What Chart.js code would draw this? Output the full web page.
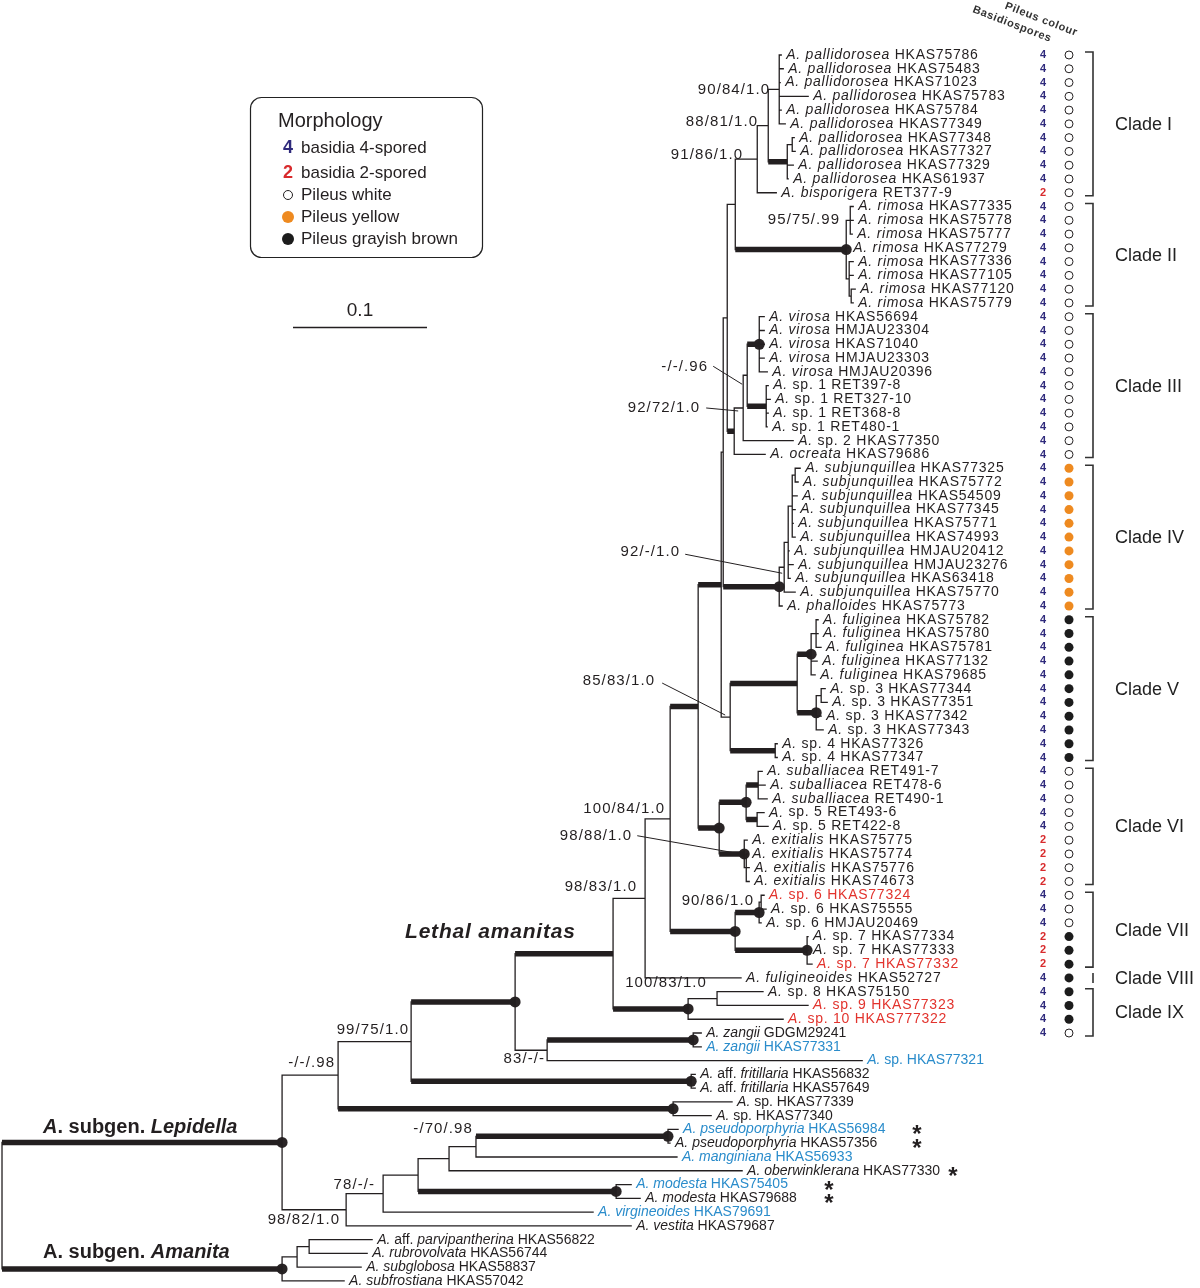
<!DOCTYPE html>
<html><head><meta charset="utf-8">
<script src="https://cdn.jsdelivr.net/npm/chart.js@4.4.1/dist/chart.umd.min.js"></script>
<style>html,body{margin:0;padding:0;background:#fff;}canvas{display:block;}</style>
</head><body>
<canvas id="c" width="1200" height="1288"></canvas>
<script>
// ---------------- DATA ----------------
const tipSpecies = [
'A. pallidorosea','A. pallidorosea','A. pallidorosea','A. pallidorosea','A. pallidorosea','A. pallidorosea','A. pallidorosea','A. pallidorosea','A. pallidorosea','A. pallidorosea',
'A. bisporigera',
'A. rimosa','A. rimosa','A. rimosa','A. rimosa','A. rimosa','A. rimosa','A. rimosa','A. rimosa',
'A. virosa','A. virosa','A. virosa','A. virosa','A. virosa',
'A. sp. 1','A. sp. 1','A. sp. 1','A. sp. 1','A. sp. 2','A. ocreata',
'A. subjunquillea','A. subjunquillea','A. subjunquillea','A. subjunquillea','A. subjunquillea','A. subjunquillea','A. subjunquillea','A. subjunquillea','A. subjunquillea','A. subjunquillea',
'A. phalloides',
'A. fuliginea','A. fuliginea','A. fuliginea','A. fuliginea','A. fuliginea',
'A. sp. 3','A. sp. 3','A. sp. 3','A. sp. 3','A. sp. 4','A. sp. 4',
'A. suballiacea','A. suballiacea','A. suballiacea','A. sp. 5','A. sp. 5',
'A. exitialis','A. exitialis','A. exitialis','A. exitialis',
'A. sp. 6','A. sp. 6','A. sp. 6','A. sp. 7','A. sp. 7','A. sp. 7',
'A. fuligineoides','A. sp. 8','A. sp. 9','A. sp. 10',
'A. zangii','A. zangii ','A. sp.',
'A. aff. fritillaria','A. aff. fritillaria','A. sp.','A. sp.',
'A. pseudoporphyria','A. pseudoporphyria','A. manginiana','A. oberwinklerana','A. modesta','A. modesta','A. virgineoides','A. vestita',
'A. aff. parvipantherina','A. rubrovolvata','A. subglobosa','A. subfrostiana'];
const tipVoucher = [
'HKAS75786','HKAS75483','HKAS71023','HKAS75783','HKAS75784','HKAS77349','HKAS77348','HKAS77327','HKAS77329','HKAS61937',
'RET377-9',
'HKAS77335','HKAS75778','HKAS75777','HKAS77279','HKAS77336','HKAS77105','HKAS77120','HKAS75779',
'HKAS56694','HMJAU23304','HKAS71040','HMJAU23303','HMJAU20396',
'RET397-8','RET327-10','RET368-8','RET480-1','HKAS77350','HKAS79686',
'HKAS77325','HKAS75772','HKAS54509','HKAS77345','HKAS75771','HKAS74993','HMJAU20412','HMJAU23276','HKAS63418','HKAS75770',
'HKAS75773',
'HKAS75782','HKAS75780','HKAS75781','HKAS77132','HKAS79685',
'HKAS77344','HKAS77351','HKAS77342','HKAS77343','HKAS77326','HKAS77347',
'RET491-7','RET478-6','RET490-1','RET493-6','RET422-8',
'HKAS75775','HKAS75774','HKAS75776','HKAS74673',
'HKAS77324','HKAS75555','HMJAU20469','HKAS77334','HKAS77333','HKAS77332',
'HKAS52727','HKAS75150','HKAS77323','HKAS777322',
'GDGM29241','HKAS77331','HKAS77321',
'HKAS56832','HKAS57649','HKAS77339','HKAS77340',
'HKAS56984','HKAS57356','HKAS56933','HKAS77330','HKAS75405','HKAS79688','HKAS79691','HKAS79687',
'HKAS56822','HKAS56744','HKAS58837','HKAS57042'];
const redTips = [62,67,70,71];
const blueTips = [73,74,79,81,83,85];
const starTips = [79,80,82,83,84];
const tipSpores = [4,4,4,4,4,4,4,4,4,4, 2, 4,4,4,4,4,4,4,4, 4,4,4,4,4, 4,4,4,4,4,4,
  4,4,4,4,4,4,4,4,4,4,4, 4,4,4,4,4,4,4,4,4,4,4, 4,4,4,4,4, 2,2,2,2, 4,4,4,2,2,2, 4, 4,4,4, 4];
const tipPileus = ['w','w','w','w','w','w','w','w','w','w','w', 'w','w','w','w','w','w','w','w',
  'w','w','w','w','w','w','w','w','w','w','w',
  'y','y','y','y','y','y','y','y','y','y','y',
  'g','g','g','g','g','g','g','g','g','g','g',
  'w','w','w','w','w','w','w','w','w', 'w','w','w','g','g','g', 'g', 'g','g','g', 'w'];

const treeTable = [
'ROOT = LEP:0.2090 AMA:0.2090',
'LEP = N1:0.0418 N2:0.0478',
'N1 = N3:0.0545 N4:0.2500',
'N3 = N5:0.0776 N6:0.2090',
'N5 = N7:0.0731 N8:0.0239',
'N7 = N10:0.0239 N11:0.0560',
'N10 = N13:0.0187 t68:0.0716',
'N13 = N14:0.0209 N15:0.0485',
'N14 = N18:0.0172 N19:0.0157',
'N18 = N20:0.0015 N21:0.0067',
'N20 = N22:0.0030 N23:0.0418',
'N22 = N24:0.0060 N25:0.0052',
'N24 = N26:0.0164 N27:0.0828',
'N26 = N28:0.0082 t11:0.0142',
'N28 = N29:0.0082 N30:0.0142',
'N29 = t1:0.0015 t2:0.0030 t3:0.0007 t4:0.0216 t5:0.0015 t6:0.0045',
'N30 = N31:0.0037 t9:0.0045 t10:0.0007',
'N31 = t7:0.0015 t8:0.0022',
'N27 = N27a:0.0030 t15:0.0015 N27b:0.0022',
'N27a = t12:0.0022 t13:0.0022 t14:0.0015',
'N27b = t16:0.0030 t17:0.0030 N27c:0.0015',
'N27c = t18:0.0030 t19:0.0015',
'N25 = N32:0.0067 t30:0.0231',
'N32 = N33:0.0030 t29:0.0373',
'N33 = N34:0.0090 N35:0.0142',
'N34 = t20:0.0037 t21:0.0037 t22:0.0037 t23:0.0037 t24:0.0060',
'N35 = t25:0.0015 t26:0.0030 t27:0.0015 t28:0.0007',
'N23 = N36:0.0037 t41:0.0022',
'N36 = N37:0.0030 t40:0.0082',
'N37 = N38:0.0030 t37:0.0007 t38:0.0037 t39:0.0015',
'N38 = N39:0.0022 t33:0.0037 t34:0.0022 t35:0.0007 t36:0.0022',
'N39 = t31:0.0037 t32:0.0022',
'N21 = N40:0.0500 N41:0.0336',
'N40 = N42:0.0104 N44:0.0142',
'N42 = N43:0.0037 t45:0.0045 t46:0.0030',
'N43 = t42:0.0015 t43:0.0015 t44:0.0037',
'N44 = N45:0.0037 t49:0.0037 t50:0.0052',
'N45 = t47:0.0030 t48:0.0045',
'N41 = t51:0.0015 t52:0.0015',
'N19 = N56:0.0201 N51:0.0187',
'N56 = N52:0.0090 N53:0.0082',
'N52 = t53:0.0030 t54:0.0052 t55:0.0067',
'N53 = t56:0.0052 t57:0.0082',
'N51 = t58:0.0022 N54:0.0015',
'N54 = t59:0.0007 t60:0.0022 t61:0.0022',
'N15 = N16:0.0179 N17:0.0537',
'N16 = N16a:0.0015 t64:0.0015',
'N16a = t62:0.0022 t63:0.0037',
'N17 = t65:0.0007 t66:0.0007 t67:0.0037',
'N11 = N12:0.0216 t71:0.0709',
'N12 = t69:0.0343 t70:0.0679',
'N8 = N9:0.1090 t74:0.2351',
'N9 = t72:0.0060 t73:0.0060',
'N6 = t75:0.0030 t76:0.0030',
'N4 = t77:0.0440 t78:0.0284',
'N2 = N46:0.0276 t86:0.2127',
'N46 = N47:0.0261 t85:0.1567',
'N47 = N48:0.0231 N49:0.1478',
'N48 = N50:0.0201 t82:0.2187',
'N50 = N55:0.1433 t81:0.1500',
'N55 = t79:0.0075 t80:0.0015',
'N49 = t83:0.0112 t84:0.0179',
'AMA = Am1:0.0112 t90:0.0463',
'Am1 = Am2:0.0090 t89:0.0478',
'Am2 = t87:0.0470 t88:0.0433'];
const thickBranches = ['LEP','AMA','N5','N7','N4','N6','N9','N11','N14','N18','N15','N16','N17','N19','N56','N51','N52','N53','N23','N40','N41','N42','N44','N25','N34','N35','N27','N30','N55','N49'];
const dotNodes = ['LEP','AMA','N5','N4','N6','N9','N11','N15','N16','N17','N19','N56','N51','N23','N42','N44','N34','N27','N55','N49'];
const supportNodes = ['N29','N28','N26','N27a','N33','N32','N36','N21','N13','N54','N10','N16','N12','N8','N3','N1','N50','N46','N2'];
const supportValues = ['90/84/1.0','88/81/1.0','91/86/1.0','95/75/.99','-/-/.96','92/72/1.0','92/-/1.0','85/83/1.0','100/84/1.0','98/88/1.0','98/83/1.0','90/86/1.0','100/83/1.0','83/-/-','99/75/1.0','-/-/.98','-/70/.98','78/-/-','98/82/1.0'];
const cladeNames = ['Clade I','Clade II','Clade III','Clade IV','Clade V','Clade VI','Clade VII','Clade VIII','Clade IX'];
const cladeFirst = [1,12,20,31,42,53,62,68,69];
const cladeLast  = [11,19,30,41,52,61,67,68,72];
const legendSymbols = ['4','2','w','y','g'];
const legendTexts = ['basidia 4-spored','basidia 2-spored','Pileus white','Pileus yellow','Pileus grayish brown'];
const scaleBarValue = 0.1;

// ---------------- LAYOUT / STYLE ----------------
const FONT = '"Liberation Sans", Arial, Helvetica, sans-serif';
const INK = '#231f20';
const RED = '#e2332d', BLUE = '#2a8ccb', SPORE4 = '#2f2a7c', SPORE2 = '#d82a2c', ORANGE = '#ee8a20';
const supportPlace = {
 N29:[-9,0], N28:[-10,-4], N26:[-14,-4], N27a:[-10,0],
 N33:[-39,-8,-34,-9,-5,9], N32:[-43,0,-37,0,-5,3], N36:[-104,-15,-99,-13,-2,6],
 N21:[-75,-36,-68,-34,-5,-2], N13:[-5,-10], N54:[-114,-32,-109,-32,-1,-13],
 N10:[-8,-12], N16:[-5,-12], N12:[-10,-16], N8:[-2,9], N3:[-2,-12], N1:[-3,-12],
 N50:[-3,-18], N46:[-8,-9], N2:[-6,10]
};
const starColumnX = {79: 917, 80: 917, 82: 953, 83: 829, 84: 829};

// ---------------- BUILD TREE ----------------
const nodes = {};
treeTable.forEach(line => {
  const [name, rest] = line.split('=').map(s => s.trim());
  nodes[name] = nodes[name] || {name, len: 0};
  nodes[name].children = rest.split(/\s+/).map(tok => {
    const [c, l] = tok.split(':');
    nodes[c] = nodes[c] || {name: c, len: 0, children: []};
    nodes[c].len = parseFloat(l);
    return nodes[c];
  });
});
let leafCounter = 0;
function layout(node, parentX, parent) {
  node.parent = parent;
  node.x = parentX + node.len;
  if (!node.children || node.children.length === 0) {
    node.children = [];
    node.y = leafCounter++;
    node.tip = parseInt(node.name.slice(1), 10);
  } else {
    node.children.forEach(c => layout(c, node.x, node));
    node.y = (node.children[0].y + node.children[node.children.length - 1].y) / 2;
  }
}
const root = nodes['ROOT'];
layout(root, 0, null);
const allNodes = Object.values(nodes);
const tipNodes = allNodes.filter(n => n.children.length === 0).sort((a, b) => a.tip - b.tip);

const thinData = [], thickData = [];
const GAP = {x: null, y: null};
allNodes.forEach(n => {
  if (n.children.length) {
    thinData.push({x: n.x, y: n.children[0].y}, {x: n.x, y: n.children[n.children.length - 1].y}, GAP);
  }
  if (n.parent) {
    const target = thickBranches.includes(n.name) ? thickData : thinData;
    target.push({x: n.parent.x, y: n.y}, {x: n.x, y: n.y}, GAP);
  }
});
const dotData = dotNodes.map(nm => ({x: nodes[nm].x, y: nodes[nm].y}));

// ---------------- DRAW HELPERS ----------------
function setSpacing(ctx, px) { if ('letterSpacing' in ctx) ctx.letterSpacing = px + 'px'; }
function isItalicToken(t) { return !(t === 'sp.' || t === 'aff.' || /^\d+$/.test(t)); }
function drawTipLabel(ctx, x, y, species, voucher, color, spacing, size) {
  ctx.fillStyle = color; ctx.textBaseline = 'middle'; ctx.textAlign = 'left';
  setSpacing(ctx, spacing);
  const parts = species.trim().split(/\s+/).map(t => [t, isItalicToken(t)]);
  parts.push([voucher, false]);
  let cx = x;
  parts.forEach(([t, it], k) => {
    ctx.font = (it ? 'italic ' : '') + size + 'px ' + FONT;
    ctx.fillText(t, cx, y);
    cx += ctx.measureText(t).width;
    if (k < parts.length - 1) { ctx.font = size + 'px ' + FONT; cx += ctx.measureText(' ').width; }
  });
  setSpacing(ctx, 0);
  return cx;
}
function circle(ctx, x, y, r, fill, stroke) {
  ctx.beginPath(); ctx.arc(x, y, r, 0, Math.PI * 2);
  if (fill) { ctx.fillStyle = fill; ctx.fill(); }
  if (stroke) { ctx.strokeStyle = stroke; ctx.lineWidth = 1; ctx.stroke(); }
}
function pileusMark(ctx, x, y, code, big) {
  if (code === 'w') circle(ctx, x, y, big ? 4.5 : 4, '#fff', INK);
  else if (code === 'y') circle(ctx, x, y, big ? 6 : 4.5, ORANGE, null);
  else if (code === 'g') circle(ctx, x, y, big ? 6 : 4.5, '#1c1c1c', null);
}
function line(ctx, x1, y1, x2, y2, w, col) {
  ctx.beginPath(); ctx.moveTo(x1, y1); ctx.lineTo(x2, y2);
  ctx.lineWidth = w; ctx.strokeStyle = col || INK; ctx.stroke();
}

const decor = {
  id: 'decor',
  afterDatasetsDraw(chart) {
    const ctx = chart.ctx, xs = chart.scales.x, ys = chart.scales.y;
    ctx.save();
    tipNodes.forEach(n => {
      const i = n.tip - 1;
      const px = xs.getPixelForValue(n.x) + 5, py = ys.getPixelForValue(n.y);
      const col = redTips.includes(n.tip) ? RED : blueTips.includes(n.tip) ? BLUE : INK;
      drawTipLabel(ctx, px, py, tipSpecies[i], tipVoucher[i], col, n.tip >= 72 ? 0 : 0.75, 14);
      if (starTips.includes(n.tip)) {
        ctx.font = 'bold 24px ' + FONT; ctx.fillStyle = INK; ctx.textBaseline = 'alphabetic'; ctx.textAlign = 'center';
        ctx.fillText('*', starColumnX[n.tip], py + 13);
      }
      if (i < tipSpores.length && tipSpores[i]) {
        ctx.font = 'bold 11px ' + FONT; ctx.textAlign = 'center'; ctx.textBaseline = 'middle';
        ctx.fillStyle = tipSpores[i] === 2 ? SPORE2 : SPORE4;
        ctx.fillText(String(tipSpores[i]), 1043, py);
        pileusMark(ctx, 1069, py, tipPileus[i], false);
      }
    });
    // column headers
    ctx.fillStyle = '#333'; ctx.font = 'bold 11px ' + FONT; ctx.textAlign = 'right'; ctx.textBaseline = 'alphabetic';
    [['Basidiospores', 1050, 42], ['Pileus colour', 1076, 36]].forEach(([t, x, y]) => {
      ctx.save(); ctx.translate(x, y); ctx.rotate(21 * Math.PI / 180); setSpacing(ctx, 0.6); ctx.fillText(t, 0, 0); setSpacing(ctx, 0); ctx.restore();
    });
    // clade brackets
    cladeNames.forEach((nm, k) => {
      const y1 = ys.getPixelForValue(tipNodes[cladeFirst[k] - 1].y), y2 = ys.getPixelForValue(tipNodes[cladeLast[k] - 1].y);
      ctx.strokeStyle = '#333'; ctx.lineWidth = 1.6;
      if (cladeFirst[k] === cladeLast[k]) {
        line(ctx, 1093, y1 - 5, 1093, y1 + 5, 1.6, '#333');
      } else {
        ctx.beginPath(); ctx.moveTo(1085, y1 - 3); ctx.lineTo(1093, y1 - 3); ctx.lineTo(1093, y2 + 3); ctx.lineTo(1085, y2 + 3); ctx.stroke();
      }
      ctx.fillStyle = '#222'; ctx.font = '18px ' + FONT; ctx.textAlign = 'left'; ctx.textBaseline = 'middle';
      ctx.fillText(nm, 1115, (y1 + y2) / 2 + 1);
    });
    // support values
    supportNodes.forEach((nm, k) => {
      const n = nodes[nm], p = supportPlace[nm] || [-4, -8];
      const nx = xs.getPixelForValue(n.x), ny = ys.getPixelForValue(n.y);
      ctx.fillStyle = INK; ctx.font = '15px ' + FONT; ctx.textAlign = 'right'; ctx.textBaseline = 'middle';
      setSpacing(ctx, 1.1);
      ctx.fillText(supportValues[k], nx + p[0], ny + p[1]);
      setSpacing(ctx, 0);
      if (p.length > 2) line(ctx, nx + p[2], ny + p[3], nx + p[4], ny + p[5], 1, INK);
    });
    // group labels
    ctx.fillStyle = INK; ctx.textAlign = 'left'; ctx.textBaseline = 'middle';
    ctx.font = 'italic bold 21px ' + FONT; setSpacing(ctx, 0.8); ctx.fillText('Lethal amanitas', 405, 932); setSpacing(ctx, 0);
    function mixed(parts, x, y) {
      let cx = x;
      parts.forEach(([t, it]) => { ctx.font = (it ? 'italic ' : '') + 'bold 20px ' + FONT; ctx.fillText(t, cx, y); cx += ctx.measureText(t).width; });
    }
    mixed([['A', true], ['. subgen. ', false], ['Lepidella', true]], 43, 1127);
    mixed([['A', false], ['. subgen. ', false], ['Amanita', true]], 43, 1252);
    // legend box
    const bx = 250.5, by = 97.5, bw = 232, bh = 160, r = 11;
    ctx.beginPath();
    ctx.moveTo(bx + r, by); ctx.arcTo(bx + bw, by, bx + bw, by + bh, r); ctx.arcTo(bx + bw, by + bh, bx, by + bh, r);
    ctx.arcTo(bx, by + bh, bx, by, r); ctx.arcTo(bx, by, bx + bw, by, r); ctx.closePath();
    ctx.lineWidth = 1.2; ctx.strokeStyle = '#222'; ctx.stroke();
    ctx.fillStyle = INK; ctx.font = '20px ' + FONT; ctx.textAlign = 'left'; ctx.textBaseline = 'middle';
    ctx.fillText('Morphology', 278, 121);
    const ly = [148, 173, 195, 217, 239];
    legendSymbols.forEach((s, k) => {
      if (s === '4' || s === '2') {
        ctx.font = 'bold 18px ' + FONT; ctx.fillStyle = s === '4' ? SPORE4 : SPORE2; ctx.textAlign = 'center';
        ctx.fillText(s, 288, ly[k]);
      } else pileusMark(ctx, 288, ly[k], s, true);
      ctx.font = '17px ' + FONT; ctx.fillStyle = INK; ctx.textAlign = 'left';
      ctx.fillText(legendTexts[k], 301, ly[k]);
    });
    // scale bar
    const sbw = xs.getPixelForValue(scaleBarValue) - xs.getPixelForValue(0);
    line(ctx, 293, 327.5, 293 + sbw, 327.5, 1.4, INK);
    ctx.font = '19px ' + FONT; ctx.textAlign = 'center'; ctx.fillStyle = INK; ctx.textBaseline = 'middle';
    ctx.fillText(String(scaleBarValue), 293 + sbw / 2, 311);
    ctx.restore();
  }
};

new Chart(document.getElementById('c'), {
  type: 'scatter',
  data: {
    datasets: [
      {data: thinData, showLine: true, borderColor: INK, borderWidth: 1.3, pointRadius: 0, spanGaps: false, borderCapStyle: 'square'},
      {data: thickData, showLine: true, borderColor: INK, borderWidth: 5.5, pointRadius: 0, spanGaps: false, borderCapStyle: 'butt'},
      {data: dotData, showLine: false, pointRadius: 5.5, pointBackgroundColor: '#2a2526', pointBorderWidth: 0}
    ]
  },
  options: {
    responsive: false, animation: false, devicePixelRatio: 1,
    layout: {padding: 0, autoPadding: false},
    plugins: {legend: {display: false}, tooltip: {enabled: false}},
    scales: {
      x: {type: 'linear', display: false, min: -0.0015, max: 0.894},
      y: {type: 'linear', display: false, reverse: true, min: -3.9927, max: 89.51}
    }
  },
  plugins: [decor]
});
</script>
</body></html>
